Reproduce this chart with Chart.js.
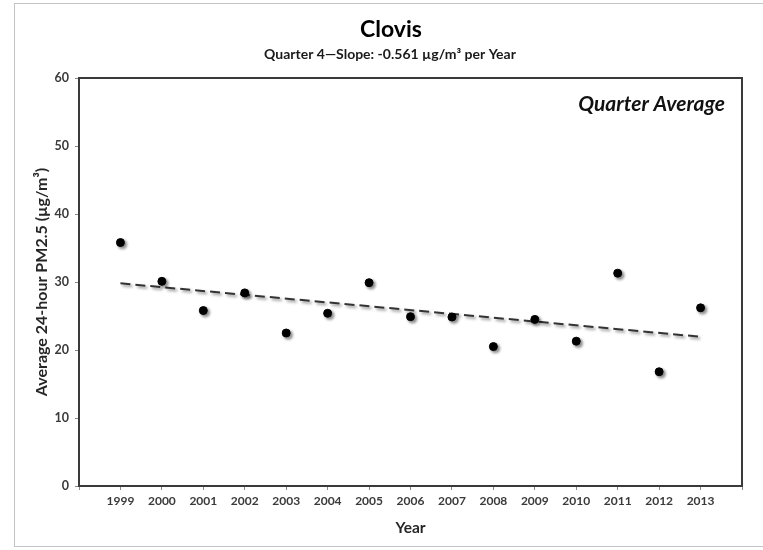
<!DOCTYPE html>
<html>
<head>
<meta charset="utf-8">
<script src="https://cdn.jsdelivr.net/npm/chart.js@4.4.1/dist/chart.umd.min.js"></script>
<style>
  html, body { margin: 0; padding: 0; background: #ffffff; }
  #wrap { position: relative; width: 763px; height: 550px; overflow: hidden; }
  #frame { position: absolute; left: 14px; top: 3px; width: 800px; height: 544px; border: 1px solid #c4c4c4; box-sizing: border-box; }
  #c { position: absolute; left: 0; top: 0; }
</style>
</head>
<body>
<div id="wrap">
  <div id="frame"></div>
  <canvas id="c" width="763" height="550"></canvas>
</div>
<script>
const chartTitle = "Clovis";
const chartSubtitle = "Quarter 4\u2014Slope: -0.561 \u00b5g/m\u00b3 per Year";
const annotationText = "Quarter Average";
const xAxisTitle = "Year";
const yAxisTitle = "Average 24-hour PM2.5 (\u00b5g/m\u00b3)";

const years = [1999, 2000, 2001, 2002, 2003, 2004, 2005, 2006, 2007, 2008, 2009, 2010, 2011, 2012, 2013];
const quarterAverage = [35.8, 30.1, 25.8, 28.4, 22.5, 25.4, 29.9, 24.9, 24.85, 20.5, 24.5, 21.3, 31.3, 16.8, 26.2];
const trendYears = [1999, 2013];
const trendValues = [29.8, 21.95];
const yTicks = [0, 10, 20, 30, 40, 50, 60];

const FONT = "Lato, 'Open Sans', sans-serif";

const shadowPlugin = {
  id: 'shadow',
  beforeDatasetDraw(chart) {
    const ctx = chart.ctx;
    ctx.save();
    ctx.shadowColor = 'rgba(0,0,0,0.45)';
    ctx.shadowBlur = 3;
    ctx.shadowOffsetX = 2;
    ctx.shadowOffsetY = 2;
  },
  afterDatasetDraw(chart) {
    chart.ctx.restore();
  }
};

const framePlugin = {
  id: 'frame',
  afterDraw(chart) {
    const {ctx, chartArea: a} = chart;
    ctx.save();
    ctx.strokeStyle = '#3a3a3a';
    ctx.lineWidth = 2;
    ctx.strokeRect(a.left, a.top, a.right - a.left, a.bottom - a.top);
    ctx.restore();
  }
};

const textPlugin = {
  id: 'texts',
  afterDraw(chart) {
    const {ctx} = chart;
    ctx.save();
    ctx.fillStyle = '#000000';
    ctx.textAlign = 'center';
    ctx.textBaseline = 'middle';
    ctx.font = "bold 23px " + FONT;
    ctx.fillText(chartTitle, 391, 30);
    ctx.font = "bold 14px " + FONT;
    ctx.fillStyle = '#1a1a1a';
    ctx.fillText(chartSubtitle, 390, 54);
    ctx.textAlign = 'right';
    ctx.fillStyle = '#111111';
    ctx.font = "italic bold 21px " + FONT;
    ctx.fillText(annotationText, 725, 104);
    ctx.restore();
  }
};

new Chart(document.getElementById('c'), {
  type: 'scatter',
  data: {
    datasets: [
      {
        label: 'Trend',
        type: 'line',
        data: trendYears.map((x, i) => ({x: x, y: trendValues[i]})),
        borderColor: '#333333',
        borderWidth: 2,
        borderDash: [10, 5],
        pointRadius: 0,
        fill: false,
        order: 2
      },
      {
        label: 'Quarter Average',
        data: years.map((x, i) => ({x: x, y: quarterAverage[i]})),
        backgroundColor: '#000000',
        borderColor: '#000000',
        pointRadius: 4,
        pointHoverRadius: 4,
        order: 1
      }
    ]
  },
  options: {
    responsive: false,
    animation: false,
    devicePixelRatio: 1,
    layout: { padding: { left: 0, top: 78, right: 21, bottom: 0 } },
    plugins: {
      legend: { display: false },
      tooltip: { enabled: false },
      title: { display: false }
    },
    scales: {
      x: {
        type: 'linear',
        min: 1998,
        max: 2014,
        afterFit(s) { s.height = 64; },
        afterBuildTicks(s) {
          const t = [];
          for (let v = 1998; v <= 2014; v++) t.push({value: v});
          s.ticks = t;
        },
        ticks: {
          autoSkip: false,
          maxRotation: 0,
          padding: 4,
          color: '#3a3a3a',
          font: { family: FONT, size: 12, weight: 'bold' },
          callback: (v) => (years.includes(v) ? String(v) : '')
        },
        grid: { display: true, drawOnChartArea: false, drawTicks: true, tickLength: 4, color: '#8a8a8a', lineWidth: 1 },
        border: { display: true, color: '#3a3a3a', width: 2 },
        title: {
          display: true,
          text: xAxisTitle,
          color: '#262626',
          font: { family: FONT, size: 15.5, weight: 'bold' },
          padding: { top: 0, bottom: 13 }
        }
      },
      y: {
        min: 0,
        max: 60,
        afterFit(s) { s.width = 79; },
        afterBuildTicks(s) { s.ticks = yTicks.map(v => ({value: v})); },
        ticks: {
          padding: 6,
          color: '#3a3a3a',
          font: { family: FONT, size: 12.5, weight: 'bold' }
        },
        grid: { display: true, drawOnChartArea: false, drawTicks: true, tickLength: 4, color: '#8a8a8a', lineWidth: 1 },
        border: { display: true, color: '#3a3a3a', width: 2 },
        title: {
          display: true,
          text: yAxisTitle,
          color: '#262626',
          font: { family: FONT, size: 16, weight: 'bold' },
          padding: { top: 32, bottom: 0 }
        }
      }
    }
  },
  plugins: [shadowPlugin, framePlugin, textPlugin]
});
</script>
</body>
</html>
